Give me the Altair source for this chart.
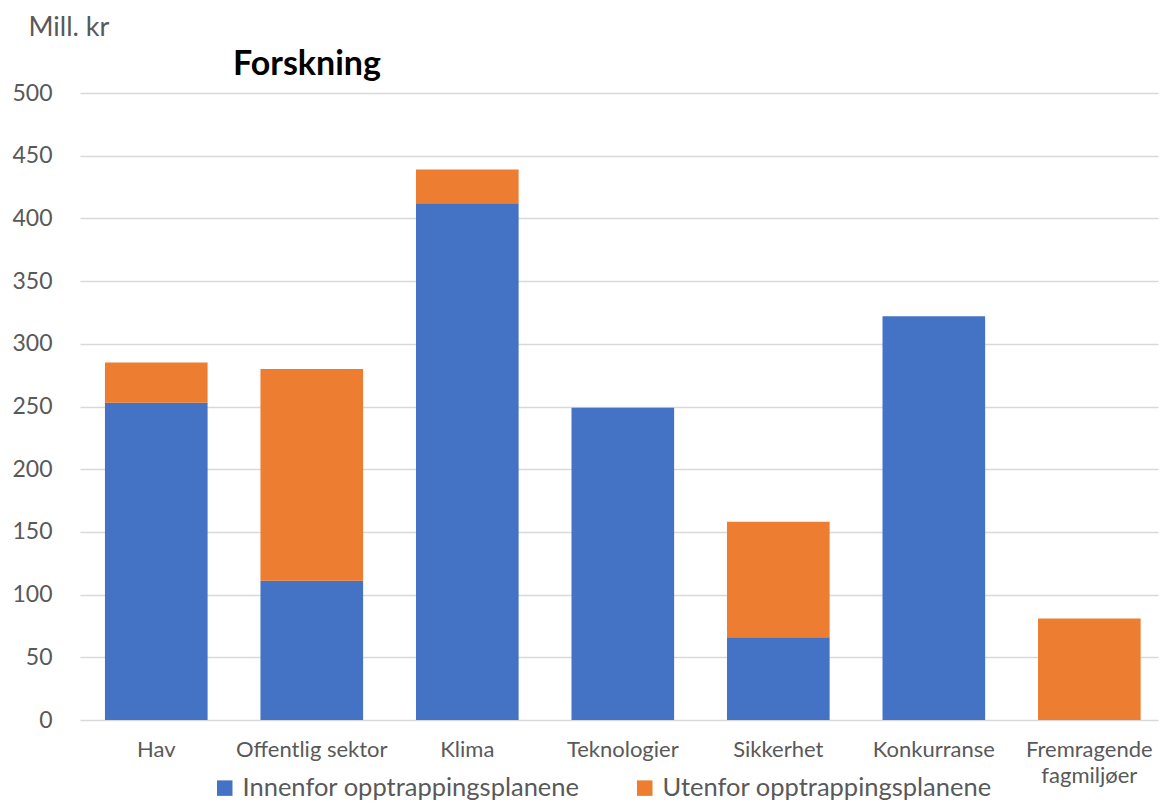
import altair as alt
import pandas as pd

categories = ["Hav", "Offentlig sektor", "Klima", "Teknologier", "Sikkerhet",
              "Konkurranse", "Fremragende fagmiljøer"]
innenfor = [253, 111, 412, 249, 66, 322, 0]
utenfor = [32, 169, 27, 0, 92, 0, 81]
series = ["Innenfor opptrappingsplanene", "Utenfor opptrappingsplanene"]
colors = ["#4472C4", "#ED7D31"]
y_ticks = [0, 50, 100, 150, 200, 250, 300, 350, 400, 450, 500]

rows = []
for c, a, b in zip(categories, innenfor, utenfor):
    rows.append({"kategori": c, "serie": series[0], "verdi": a, "orden": 0})
    rows.append({"kategori": c, "serie": series[1], "verdi": b, "orden": 1})
df = pd.DataFrame(rows)

FONT = "Lato, 'Open Sans', sans-serif"

bars = alt.Chart(df).mark_bar().encode(
    x=alt.X("kategori:N", sort=categories,
            scale=alt.Scale(paddingInner=0.34, paddingOuter=0.136, align=0.59),
            axis=alt.Axis(title=None, labelAngle=0, ticks=False, domain=False,
                          labelPadding=19, labelFontSize=22, labelColor="#595959",
                          labelFont=FONT, labelLineHeight=26, labelLimit=0,
                          labelExpr="datum.label == 'Fremragende fagmiljøer' ? ['Fremragende', 'fagmiljøer'] : datum.label")),
    y=alt.Y("verdi:Q", stack="zero",
            scale=alt.Scale(domain=[0, 500], nice=False),
            axis=alt.Axis(values=y_ticks, title="Mill. kr", titleAngle=0,
                          titleAlign="left", titleBaseline="middle",
                          titleX=-52, titleY=-66, titleFont=FONT,
                          titleFontSize=27, titleFontWeight="normal",
                          titleColor="#595959",
                          ticks=False, domain=False, labelPadding=28,
                          labelFontSize=23, labelColor="#595959", labelFont=FONT,
                          gridColor="#D9D9D9", gridWidth=1.5)),
    color=alt.Color("serie:N", scale=alt.Scale(domain=series, range=colors),
                    legend=alt.Legend(title=None, orient="none", direction="horizontal",
                                      legendX=132, legendY=682,
                                      symbolType="square", symbolSize=240,
                                      symbolStrokeWidth=0, symbolOpacity=1,
                                      labelFont=FONT, labelFontSize=25.5, labelLimit=0,
                                      labelColor="#595959", columnPadding=52,
                                      labelOffset=5)),
    order=alt.Order("orden:Q"),
)

title = alt.Chart(pd.DataFrame({"t": ["Forskning"]})).mark_text(
    font=FONT, fontSize=34, fontWeight="bold", color="#000000",
    align="left", baseline="middle"
).encode(text="t:N", x=alt.value(153), y=alt.value(-28))

chart = alt.layer(bars, title).properties(
    width=1078, height=627,
    autosize=alt.AutoSizeParams(type="none"),
    padding={"left": 72, "top": 85, "right": 2, "bottom": 81},
    background="white",
).configure_view(stroke=None)

chart.save("out.html", embed_options={"renderer": "svg", "actions": False})
